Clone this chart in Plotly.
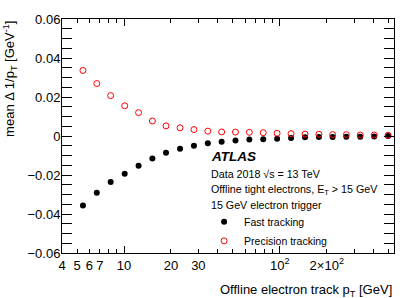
import math
import plotly.graph_objects as go

# Data
pt = [5.45, 6.69, 8.21, 10.1, 12.4, 15.2, 18.6, 22.9, 28.1, 34.5, 42.3, 51.9,
      63.7, 78.2, 96.0, 118, 145, 178, 218, 267, 328, 403, 495]
fast = [-0.0357, -0.0291, -0.0236, -0.0193, -0.0153, -0.0116, -0.0086, -0.0066,
        -0.0050, -0.0037, -0.0029, -0.0023, -0.0018, -0.0017, -0.0014, -0.0010,
        -0.0007, -0.0005, -0.0005, -0.0004, -0.0004, -0.0002, 0.0]
precision = [0.0336, 0.0269, 0.0207, 0.0155, 0.0120, 0.0077, 0.0052, 0.0042,
             0.0033, 0.0025, 0.0021, 0.0020, 0.0019, 0.0017, 0.0014, 0.0012,
             0.0010, 0.0009, 0.0007, 0.0007, 0.0005, 0.0005, 0.0004]

x_minor = [4, 5, 6, 7, 8, 9, 10, 20, 30, 40, 50, 60, 70, 80, 90, 100,
           200, 300, 400, 500]
x_labels = {4: "4", 5: "5", 6: "6", 7: "7", 10: "10", 20: "20", 30: "30",
            100: "10<sup>2</sup>", 200: "2×10<sup>2</sup>"}
x_major = [10, 100]

FONT = "Liberation Sans, Arial, Helvetica, sans-serif"

fig = go.Figure()
fig.add_trace(go.Scatter(x=pt, y=fast, mode="markers", name="Fast tracking",
                         marker=dict(symbol="circle", size=6, color="black")))
fig.add_trace(go.Scatter(x=pt, y=precision, mode="markers", name="Precision tracking",
                         marker=dict(symbol="circle-open", size=6, color="red",
                                     line=dict(width=1, color="red"))))
# empty trace so the overlay axis carrying the long major x ticks is drawn
fig.add_trace(go.Scatter(x=[], y=[], xaxis="x2", showlegend=False))

xr = [math.log10(4), math.log10(540)]

fig.update_layout(
    width=415, height=298,
    margin=dict(l=62, r=21, t=15, b=45),
    paper_bgcolor="white", plot_bgcolor="white",
    font=dict(family=FONT, size=13, color="black"),
    showlegend=True,
    legend=dict(x=0.428, y=0.195, xanchor="left", yanchor="top",
                bgcolor="rgba(0,0,0,0)", font=dict(size=10.5), tracegroupgap=0,
                itemwidth=30),
    xaxis=dict(type="log", range=xr, tickmode="array",
               tickvals=x_minor,
               ticktext=[x_labels.get(v, "") for v in x_minor],
               ticks="inside", ticklen=4, tickcolor="black",
               showline=True, linecolor="black", linewidth=1, mirror="allticks",
               showgrid=False, zeroline=False, tickfont=dict(size=13)),
    xaxis2=dict(type="log", range=xr, overlaying="x", anchor="y", side="bottom",
                tickmode="array", tickvals=x_major, showticklabels=False,
                ticks="inside", ticklen=7, tickcolor="black",
                showline=False, mirror="allticks", showgrid=False, zeroline=False),
    yaxis=dict(range=[-0.06, 0.06], dtick=0.02, tick0=0,
               ticks="inside", ticklen=10, tickcolor="black",
               minor=dict(dtick=0.005, ticks="inside", ticklen=5, tickcolor="black"),
               showline=True, linecolor="black", linewidth=1, mirror="allticks",
               showgrid=False, zeroline=False, tickfont=dict(size=13),
               ticklabelstandoff=-2),
)

ann = [
    dict(text="mean Δ 1/p<sub>T</sub> [GeV<sup>-1</sup>]", x=-0.157, y=1.0,
         xanchor="center", yanchor="top", textangle=-90, font=dict(size=13)),
    dict(text="Offline electron track p<sub>T</sub> [GeV]", x=1.0, y=-0.115,
         xanchor="right", yanchor="top", font=dict(size=13)),
    dict(text="<b><i>ATLAS</i></b>", x=0.443, y=0.412, xanchor="left",
         yanchor="middle", font=dict(size=13.5)),
    dict(text="Data 2018 √s = 13 TeV", x=0.443, y=0.336, xanchor="left",
         yanchor="middle", font=dict(size=10.7)),
    dict(text="Offline tight electrons, E<sub>T</sub> > 15 GeV", x=0.443, y=0.268,
         xanchor="left", yanchor="middle", font=dict(size=10.7)),
    dict(text="15 GeV electron trigger", x=0.443, y=0.206, xanchor="left",
         yanchor="middle", font=dict(size=10.7)),
]
for a in ann:
    a.update(xref="paper", yref="paper", showarrow=False)
    fig.add_annotation(**a)

fig.write_html("out.html", config={"displayModeBar": False},
               post_script="document.body.style.margin='0';document.body.style.padding='0';")
